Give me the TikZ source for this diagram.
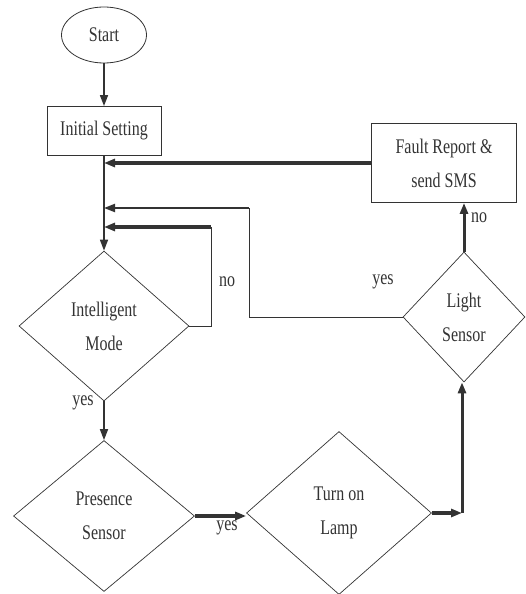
\documentclass[tikz,border=0pt]{standalone}
\usepackage{fontspec}
\setmainfont{Liberation Serif}
\usetikzlibrary{shapes}
\usetikzlibrary{arrows.meta}
\definecolor{inkgray}{HTML}{333333}
\newcommand{\tall}[1]{\scalebox{1}[1.3]{#1}}

\begin{document}
\begin{tikzpicture}[x=1pt,y=-1pt,
		every node/.style={font=\fontsize{16}{34}\selectfont,text=inkgray},
		decision/.style={diamond,draw=inkgray,line width=0.7pt,inner sep=0pt,align=center},
		process/.style={rectangle,draw=inkgray,line width=0.9pt,align=center},
		flow/.style={draw=inkgray,line width=1.6pt,-{Triangle[length=11pt,width=8pt]}},
		thin/.style={draw=inkgray,line width=1pt}]
		\useasboundingbox (0,0) rectangle (526,594);
		\node[ellipse,draw=inkgray,line width=0.8pt,minimum width=85pt,minimum height=56pt] (start) at (104,35) {\tall{Start}};
		\node[process,minimum width=114pt,minimum height=49pt] (init) at (104,131) {\tall{Initial Setting}};
		\node[process,minimum width=145pt,minimum height=79pt] (fault) at (444,163) {\tall{Fault Report \&}\\\tall{send SMS}};
		\node[decision,minimum width=170pt,minimum height=150pt] (mode) at (104,326) {\tall{Intelligent}\\\tall{Mode}};
		\node[decision,minimum width=181pt,minimum height=151pt] (presence) at (104,516) {\tall{Presence}\\\tall{Sensor}};
		\node[decision,minimum width=185pt,minimum height=163pt] (lamp) at (339,513) {\tall{Turn on}\\\tall{Lamp}};
		\node[decision,minimum width=122pt,minimum height=130pt] (light) at (464,317) {\tall{Light}\\\tall{Sensor}};
		% junctions on the main line
		\coordinate (loopno) at (211,227);
		\coordinate (loopyes) at (249,208);
		\coordinate (corner) at (462,513);
		% connectors
		\draw[flow] (start) -- (init);
		\draw[flow] (init) -- (mode);
		\draw[flow,line width=3.5pt] (fault.west) -- (fault.west -| init.south);
		\draw[thin] (light.west) -- (light.west -| loopyes) -- (loopyes);
		\draw[flow,line width=2pt] (loopyes) -- (loopyes -| init.south);
		\draw[thin] (mode.east) -- (mode.east -| loopno) -- (loopno);
		\draw[flow,line width=3.5pt] (loopno) -- (loopno -| init.south);
		\draw[flow] (mode) -- (presence);
		\draw[flow,line width=3.5pt] (presence.east) -- (presence.east -| lamp.west);
		\draw[flow,line width=3.5pt] (lamp.east) -- (corner);
		\draw[flow,line width=3pt] (corner) -- (corner |- light.south);
		\draw[flow,line width=3pt] (light.north) -- (light.north |- fault.south);
		% labels
		\node (yesmode) at (83,403) {\tall{yes}};
		\node (nomode) at (227,282) {\tall{no}};
		\node (yeslight) at (383,282) {\tall{yes}};
		\node (yespresence) at (227,528) {\tall{yes}};
		\node (nolight) at (479,218) {\tall{no}};
	\end{tikzpicture}
\end{document}
